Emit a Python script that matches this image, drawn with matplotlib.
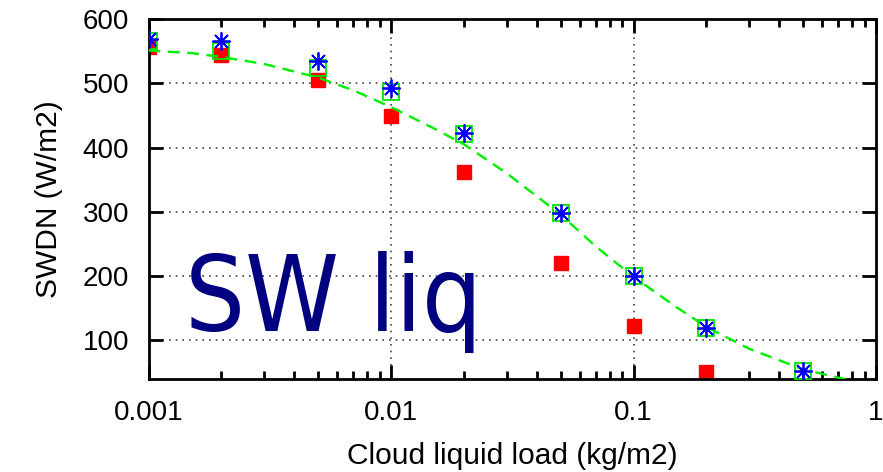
import numpy as np
import matplotlib
matplotlib.use("Agg")
import matplotlib.pyplot as plt
from matplotlib.ticker import FixedLocator, NullFormatter, FixedFormatter

# cloud liquid water path (kg/m2) and downwelling shortwave (W/m2)
lwp = [0.001, 0.002, 0.005, 0.01, 0.02, 0.05, 0.1, 0.2, 0.5]
swdn_red = [556, 544, 505, 449, 362, 220, 122, 51, None]
swdn_green = [566, 550, 524, 486, 421, 298, 200, 120, 53]
swdn_blue = [569, 566, 535, 492, 422, 298, 200, 120, 53]

# fitted curve
fit_x = [0.001, 0.0015, 0.002, 0.003, 0.005, 0.007, 0.01, 0.015, 0.02,
         0.03, 0.05, 0.07, 0.1, 0.15, 0.2, 0.3, 0.5, 0.7, 0.8]
fit_y = [551, 547, 541, 530, 509, 489, 463, 430, 405,
         360, 296, 246, 199, 152, 121, 87, 55, 42, 38]

plt.rcParams['font.family'] = ['Liberation Sans', 'DejaVu Sans']

fig = plt.figure(figsize=(8.83, 4.72), dpi=100)
ax = fig.add_axes([148.5 / 883, 1 - 379 / 472, (876 - 148.5) / 883, 360 / 472])

ax.set_xscale('log')
ax.set_xlim(0.001, 1)
ax.set_ylim(40, 600)

ax.plot(fit_x, fit_y, color='#00ee00', lw=1.7, dashes=(5, 3.2), zorder=3)

rx = [x for x, y in zip(lwp, swdn_red) if y is not None]
ry = [y for y in swdn_red if y is not None]
ax.plot(rx, ry, ls='none', marker='s', ms=10, mfc='#ff0000', mec='#ff0000', zorder=2)
ax.plot(lwp, swdn_green, ls='none', marker='s', ms=11, mfc='none', mec='#00e600', mew=1.3, zorder=4)
ax.plot(lwp, swdn_blue, ls='none', marker=(8, 2, 0), ms=13, mec='#0000ff', mew=1.3, zorder=5)

ax.text(0.00141, 114, 'SW liq', color='#000080', fontsize=76,
        family='DejaVu Sans', fontstretch='condensed', zorder=1)

# grid only at inner decades and inner y ticks
for gx in [0.01, 0.1]:
    ax.axvline(gx, color='#444444', lw=1.2, ls=(0, (1, 3)), zorder=0)
for gy in [100, 200, 300, 400, 500]:
    ax.axhline(gy, color='#444444', lw=1.2, ls=(0, (1, 3)), zorder=0)

ax.xaxis.set_major_locator(FixedLocator([0.001, 0.01, 0.1, 1]))
ax.xaxis.set_major_formatter(FixedFormatter(['0.001', '0.01', '0.1', '1']))
minors = [m * d for d in [0.001, 0.01, 0.1] for m in range(2, 10)]
ax.xaxis.set_minor_locator(FixedLocator(minors))
ax.xaxis.set_minor_formatter(NullFormatter())
ax.set_yticks([100, 200, 300, 400, 500, 600])

ax.tick_params(which='major', direction='in', length=10, width=2,
               top=True, right=True, labelsize=20)
ax.tick_params(axis='x', which='major', pad=15)
ax.tick_params(axis='y', which='major', pad=14)
ax.tick_params(which='minor', direction='in', length=5.5, width=2, top=True, right=True)
for s in ax.spines.values():
    s.set_linewidth(2)

ax.set_xlabel('Cloud liquid load (kg/m2)', fontsize=21.5, labelpad=12)
ax.set_ylabel('SWDN (W/m2)', fontsize=21.5, labelpad=14)

fig.savefig('out.png', dpi=100)
